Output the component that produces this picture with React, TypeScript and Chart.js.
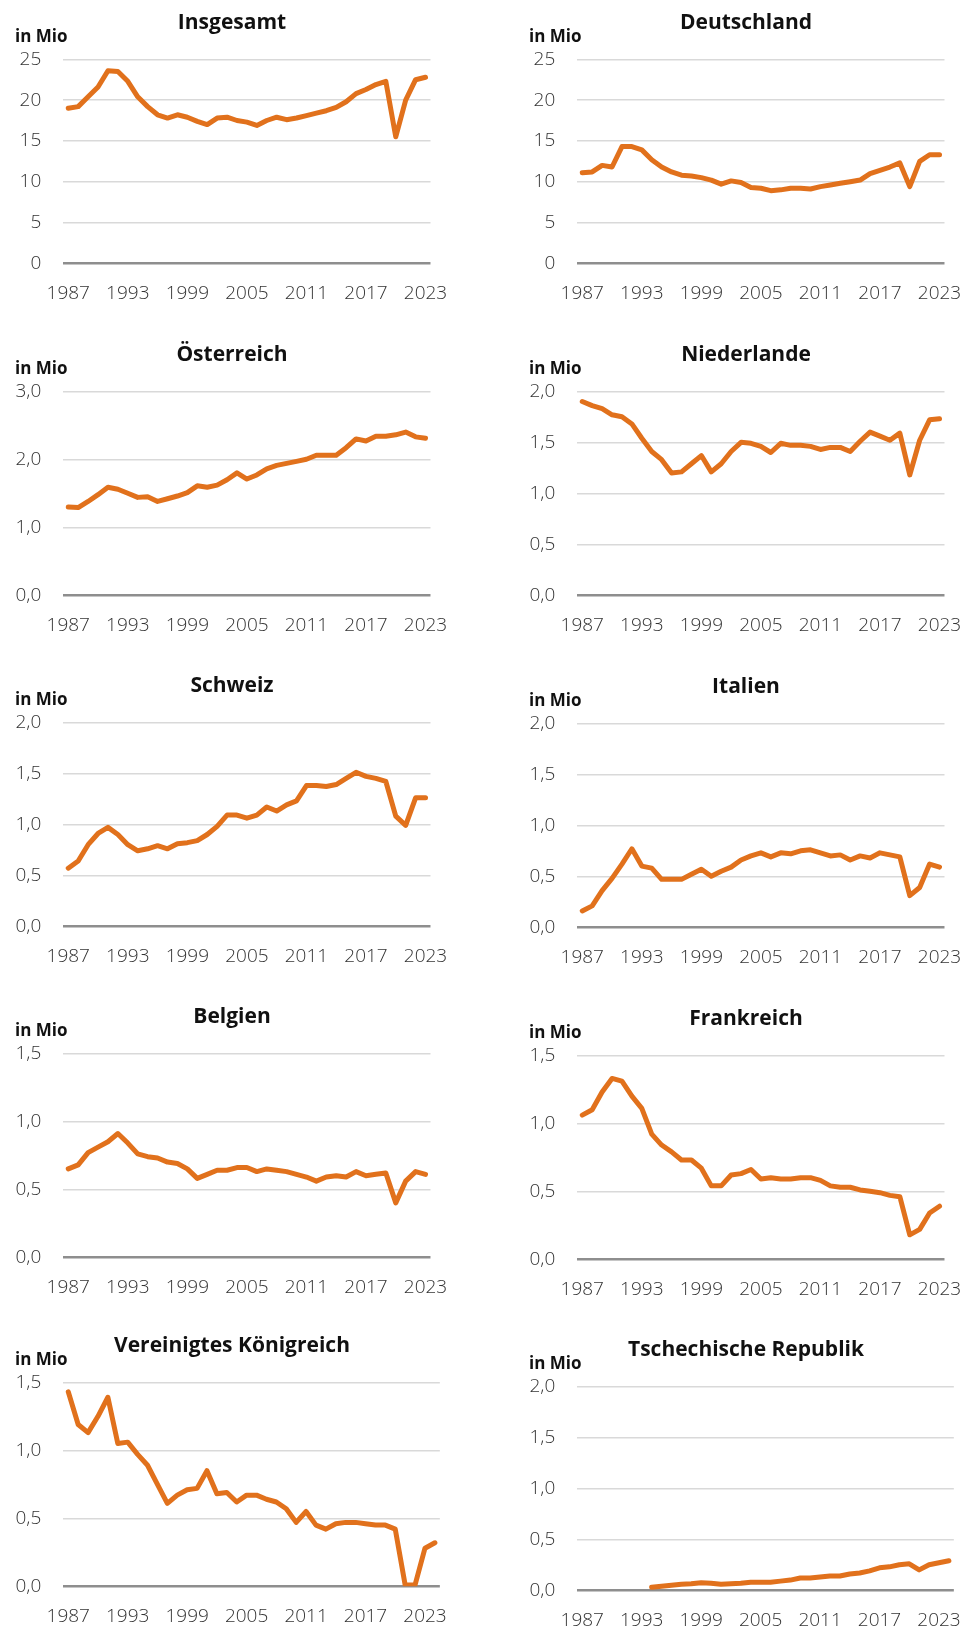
import React, { useEffect, useRef } from 'react';
import { Chart, registerables } from 'chart.js';

Chart.register(...registerables);

// ---------- categories ----------
const years = [
  '1987', '1988', '1989', '1990', '1991', '1992', '1993', '1994', '1995', '1996',
  '1997', '1998', '1999', '2000', '2001', '2002', '2003', '2004', '2005', '2006',
  '2007', '2008', '2009', '2010', '2011', '2012', '2013', '2014', '2015', '2016',
  '2017', '2018', '2019', '2020', '2021', '2022', '2023',
];
const yearsLong = [...years, '2024'];
const tickYears = ['1987', '1993', '1999', '2005', '2011', '2017', '2023'];

// ---------- series (Mio) ----------
const insgesamt = [19.0, 19.2, 20.4, 21.6, 23.6, 23.5, 22.3, 20.4, 19.2, 18.2, 17.8, 18.2, 17.9, 17.4, 17.0, 17.8, 17.9, 17.5, 17.3, 16.9, 17.5, 17.9, 17.6, 17.8, 18.1, 18.4, 18.7, 19.1, 19.8, 20.8, 21.3, 21.9, 22.3, 15.5, 20.0, 22.5, 22.8];
const deutschland = [11.1, 11.2, 12.0, 11.8, 14.3, 14.3, 13.9, 12.7, 11.8, 11.2, 10.8, 10.7, 10.5, 10.2, 9.7, 10.1, 9.9, 9.3, 9.2, 8.9, 9.0, 9.2, 9.2, 9.1, 9.4, 9.6, 9.8, 10.0, 10.2, 11.0, 11.4, 11.8, 12.3, 9.4, 12.5, 13.3, 13.3];
const oesterreich = [1.30, 1.29, 1.38, 1.48, 1.59, 1.56, 1.50, 1.44, 1.45, 1.38, 1.42, 1.46, 1.51, 1.61, 1.59, 1.62, 1.70, 1.80, 1.71, 1.77, 1.86, 1.91, 1.94, 1.97, 2.00, 2.06, 2.06, 2.06, 2.17, 2.30, 2.27, 2.34, 2.34, 2.36, 2.40, 2.33, 2.31];
const niederlande = [1.90, 1.86, 1.83, 1.77, 1.75, 1.68, 1.54, 1.41, 1.33, 1.20, 1.21, 1.29, 1.37, 1.21, 1.29, 1.41, 1.50, 1.49, 1.46, 1.40, 1.49, 1.47, 1.47, 1.46, 1.43, 1.45, 1.45, 1.41, 1.51, 1.60, 1.56, 1.52, 1.59, 1.18, 1.52, 1.72, 1.73];
const schweiz = [0.57, 0.64, 0.80, 0.91, 0.97, 0.90, 0.80, 0.74, 0.76, 0.79, 0.76, 0.81, 0.82, 0.84, 0.90, 0.98, 1.09, 1.09, 1.06, 1.09, 1.17, 1.13, 1.19, 1.23, 1.38, 1.38, 1.37, 1.39, 1.45, 1.51, 1.47, 1.45, 1.42, 1.08, 0.99, 1.26, 1.26];
const italien = [0.16, 0.21, 0.36, 0.48, 0.62, 0.77, 0.60, 0.58, 0.47, 0.47, 0.47, 0.52, 0.57, 0.50, 0.55, 0.59, 0.66, 0.70, 0.73, 0.69, 0.73, 0.72, 0.75, 0.76, 0.73, 0.70, 0.71, 0.66, 0.70, 0.68, 0.73, 0.71, 0.69, 0.31, 0.39, 0.62, 0.59];
const belgien = [0.65, 0.68, 0.77, 0.81, 0.85, 0.91, 0.84, 0.76, 0.74, 0.73, 0.70, 0.69, 0.65, 0.58, 0.61, 0.64, 0.64, 0.66, 0.66, 0.63, 0.65, 0.64, 0.63, 0.61, 0.59, 0.56, 0.59, 0.60, 0.59, 0.63, 0.60, 0.61, 0.62, 0.40, 0.56, 0.63, 0.61];
const frankreich = [1.06, 1.10, 1.23, 1.33, 1.31, 1.20, 1.11, 0.92, 0.84, 0.79, 0.73, 0.73, 0.67, 0.54, 0.54, 0.62, 0.63, 0.66, 0.59, 0.60, 0.59, 0.59, 0.60, 0.60, 0.58, 0.54, 0.53, 0.53, 0.51, 0.50, 0.49, 0.47, 0.46, 0.18, 0.22, 0.34, 0.39];
const vereinigtesKoenigreich = [1.43, 1.19, 1.13, 1.25, 1.39, 1.05, 1.06, 0.97, 0.89, 0.75, 0.61, 0.67, 0.71, 0.72, 0.85, 0.68, 0.69, 0.62, 0.67, 0.67, 0.64, 0.62, 0.57, 0.47, 0.55, 0.45, 0.42, 0.46, 0.47, 0.47, 0.46, 0.45, 0.45, 0.42, 0.01, 0.01, 0.28, 0.32];
const tschechien = [null, null, null, null, null, null, null, 0.03, 0.04, 0.05, 0.06, 0.065, 0.075, 0.07, 0.06, 0.065, 0.07, 0.08, 0.08, 0.08, 0.09, 0.10, 0.12, 0.12, 0.13, 0.14, 0.14, 0.16, 0.17, 0.19, 0.22, 0.23, 0.25, 0.26, 0.20, 0.25, 0.27, 0.29];

// ---------- axis ranges ----------
const yMax = [25, 25, 3, 2, 2, 2, 1.5, 1.5, 1.5, 2];
const yStep = [5, 5, 1, 0.5, 0.5, 0.5, 0.5, 0.5, 0.5, 0.5];
const titles = ['Insgesamt', 'Deutschland', 'Österreich', 'Niederlande', 'Schweiz', 'Italien', 'Belgien', 'Frankreich', 'Vereinigtes Königreich', 'Tschechische Republik'];
const seriesList = [insgesamt, deutschland, oesterreich, niederlande, schweiz, italien, belgien, frankreich, vereinigtesKoenigreich, tschechien];
const labelList = [years, years, years, years, years, years, years, years, yearsLong, yearsLong];

// ---------- layout ----------
const PANEL_W = 466;
const PANEL_H = 330;
const PLOT_TOP = 59.3;
const PLOT_BOTTOM = 263.3;
const leftTops = [0, 332.4, 663.4, 994, 1323.4];
const rightTops = [0, 331.7, 664, 996.4, 1326.7];
const colLefts = [0, 514];

const ORANGE = '#E1711C';
const TEXT = '#333333';
const FONT = '"Open Sans", "Noto Sans", Arial, sans-serif';

function Panel({ idx }: { idx: number }) {
  const ref = useRef<HTMLCanvasElement | null>(null);
  useEffect(() => {
    if (!ref.current) return;
    const decimals = yMax[idx] >= 5 ? 0 : 1;
    const chart = new Chart(ref.current, {
      type: 'line',
      data: {
        labels: labelList[idx],
        datasets: [
          {
            data: seriesList[idx] as any,
            borderColor: ORANGE,
            backgroundColor: ORANGE,
            borderWidth: 5,
            pointRadius: 0,
            tension: 0,
            borderJoinStyle: 'round',
            borderCapStyle: 'round',
            spanGaps: false,
          },
        ],
      },
      options: {
        animation: false,
        responsive: false,
        maintainAspectRatio: false,
        layout: { padding: { left: 0, right: PANEL_W - 445, top: PLOT_TOP, bottom: 0 } },
        plugins: { legend: { display: false }, tooltip: { enabled: false }, title: { display: false } },
        scales: {
          x: {
            type: 'category',
            offset: true,
            grid: { display: false, drawTicks: false },
            border: { display: false },
            ticks: {
              autoSkip: false,
              maxRotation: 0,
              minRotation: 0,
              padding: 18.5,
              color: TEXT,
              font: { family: FONT, size: 19, weight: 300 as any },
              callback: function (this: any, _v: any, i: number) {
                const lab = labelList[idx][i];
                return tickYears.includes(lab) ? lab : null;
              },
            },
            afterFit: (s: any) => {
              s.height = PANEL_H - PLOT_BOTTOM;
            },
          },
          y: {
            min: 0,
            max: yMax[idx],
            grid: {
              drawTicks: false,
              color: (c: any) => (c.tick && c.tick.value === 0 ? '#8e8e8e' : '#d9d9d9'),
              lineWidth: (c: any) => (c.tick && c.tick.value === 0 ? 2.5 : 1.5),
            },
            border: { display: false },
            ticks: {
              stepSize: yStep[idx],
              padding: 22,
              color: TEXT,
              font: { family: FONT, size: 19, weight: 300 as any },
              callback: (v: any) => Number(v).toFixed(decimals).replace('.', ','),
            },
            afterFit: (s: any) => {
              s.width = 63.3;
            },
          },
        },
      },
    });
    return () => chart.destroy();
  }, [idx]);

  const row = Math.floor(idx / 2);
  const col = idx % 2;
  const top = col === 0 ? leftTops[row] : rightTops[row];
  return (
    <div style={{ position: 'absolute', left: colLefts[col], top, width: PANEL_W, height: PANEL_H }}>
      <canvas ref={ref} width={PANEL_W} height={PANEL_H} style={{ display: 'block', width: PANEL_W, height: PANEL_H }} />
      <div
        style={{
          position: 'absolute', left: 0, top: 9, width: 464, textAlign: 'center',
          fontFamily: FONT, fontWeight: 700, fontSize: 21, lineHeight: '25px', color: '#111',
        }}
      >
        {titles[idx]}
      </div>
      <div
        style={{
          position: 'absolute', left: 15, top: 26, fontFamily: FONT, fontWeight: 700,
          fontSize: 17, lineHeight: '20px', color: '#111', whiteSpace: 'nowrap',
        }}
      >
        in Mio
      </div>
    </div>
  );
}

export default function App() {
  return (
    <div style={{ position: 'absolute', left: 0, top: 0, width: 980, height: 1628, background: '#fff', overflow: 'hidden' }}>
      {titles.map((_, i) => (
        <Panel key={i} idx={i} />
      ))}
    </div>
  );
}
